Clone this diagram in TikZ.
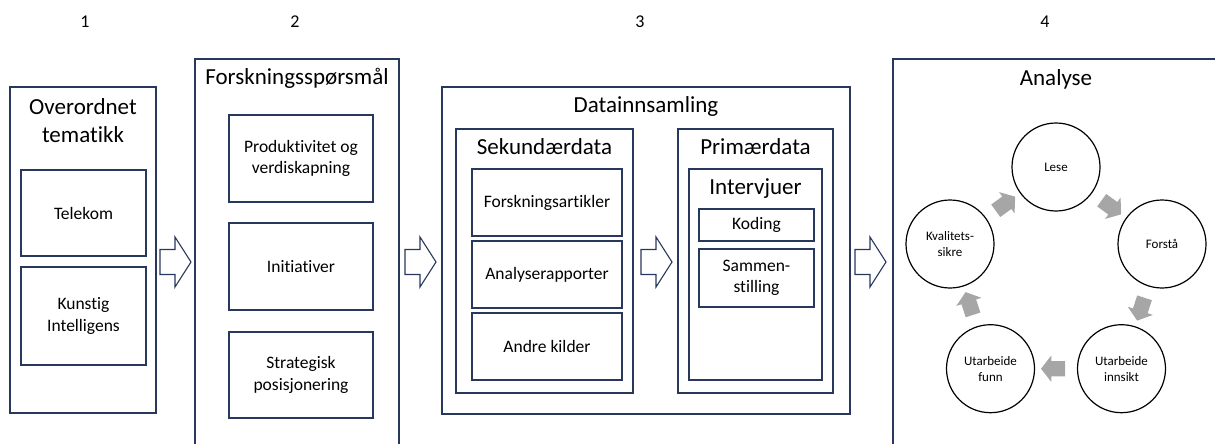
\documentclass[tikz,border=0pt]{standalone}
\usepackage{fontspec}
\setmainfont{Carlito}[Ligatures={NoCommon}]
\usetikzlibrary{shapes.arrows}
\definecolor{frame}{RGB}{40,56,92}
\definecolor{cyclegrey}{RGB}{166,166,166}

\begin{document}
\begin{tikzpicture}[x=1pt,y=-1pt,
  panel/.style={draw=frame, line width=1.1pt, inner sep=0pt},
  item/.style={panel, align=center, font=\fontsize{17.5}{21.5}\selectfont},
  heading/.style={inner sep=0pt, align=center, font=\fontsize{23}{28}\selectfont},
  stagenum/.style={inner sep=0pt, font=\fontsize{18}{22}\selectfont},
  phase/.style={circle, draw=black, line width=1.2pt, minimum size=88pt,
    inner sep=0pt, align=center, font=\fontsize{13}{16}\selectfont},
  hollow/.pic={
    \draw[frame, fill=white, line width=1.1pt, line join=miter]
      (-15.5,-12.5) -- (-0.5,-12.5) -- (-0.5,-25) -- (15.5,0)
      -- (-0.5,25) -- (-0.5,12.5) -- (-15.5,12.5) -- cycle;
  },
  turn/.style={single arrow, fill=cyclegrey, draw=none,
    inner xsep=0pt, inner ysep=7.5pt, minimum height=24pt,
    single arrow head extend=5.5pt, single arrow tip angle=104,
    sloped, allow upside down, pos=0.5}
]
\clip (0,0) rectangle (1215,444);

% stage numbers
\node[stagenum] (n1) at (85,22) {1};
\node[stagenum] (n2) at (295,22) {2};
\node[stagenum] (n3) at (640,22) {3};
\node[stagenum] (n4) at (1045,22) {4};

% 1: overall theme
\node[panel, minimum width=146pt, minimum height=326pt] (b1) at (83,250) {};
\node[heading] (t1) at (83,121) {Overordnet\\tematikk};
\node[item, minimum width=125pt, minimum height=86pt] (tele) at (83.5,213) {Telekom};
\node[item, minimum width=125pt, minimum height=98pt] (ki) at (83.5,316) {Kunstig\\Intelligens};

% 2: research questions
\node[panel, minimum width=204pt, minimum height=401pt] (b2) at (297,259.5) {};
\node[heading] (t2) at (297,78) {Forskningsspørsmål};
\node[item, minimum width=144pt, minimum height=87pt] (prod) at (301,158.5) {Produktivitet og\\verdiskapning};
\node[item, minimum width=144pt, minimum height=87pt] (init) at (301,266.5) {Initiativer};
\node[item, minimum width=144pt, minimum height=86pt] (strat) at (301,375) {Strategisk\\posisjonering};

% 3: data collection
\node[panel, minimum width=408pt, minimum height=327pt] (b3) at (646,250.5) {};
\node[heading] (t3) at (646,106) {Datainnsamling};
\node[panel, minimum width=177pt, minimum height=264pt] (sek) at (544.5,261) {};
\node[heading] (tsek) at (544.5,147) {Sekundærdata};
\node[item, minimum width=150pt, minimum height=67pt] (fa) at (547,202.5) {Forskningsartikler};
\node[item, minimum width=150pt, minimum height=67pt] (ar) at (547,274.5) {Analyserapporter};
\node[item, minimum width=150pt, minimum height=67pt] (ak) at (547,346.5) {Andre kilder};
\node[panel, minimum width=155pt, minimum height=264pt] (prim) at (755.5,261) {};
\node[heading] (tprim) at (755.5,147) {Primærdata};
\node[panel, minimum width=133pt, minimum height=211pt] (intv) at (755.5,274.5) {};
\node[heading] (tintv) at (755.5,189) {Intervjuer};
\node[item, minimum width=115pt, minimum height=32pt] (kod) at (756.5,225) {Koding};
\node[item, minimum width=115pt, minimum height=58pt] (sam) at (756.5,278) {Sammen-\\stilling};

% 4: analysis cycle
\node[panel, minimum width=347pt, minimum height=401pt] (b4) at (1066.5,259.5) {};
\node[heading] (t4) at (1056,79) {Analyse};
\node[phase] (lese) at (1056,167) {Lese};
\node[phase] (forsta) at (1162,244) {Forstå};
\node[phase] (innsikt) at (1121.5,368.7) {Utarbeide\\innsikt};
\node[phase] (funn) at (990.5,368.7) {Utarbeide\\funn};
\node[phase] (kval) at (950,244) {Kvalitets-\\sikre};
\path (lese) -- (forsta) node[turn] (g1) {};
\path (forsta) -- (innsikt) node[turn] (g2) {};
\path (innsikt) -- (funn) node[turn] (g3) {};
\path (funn) -- (kval) node[turn] (g4) {};
\path (kval) -- (lese) node[turn] (g5) {};

% flow between stages
\pic at (175.5,262) {hollow};
\pic at (420.5,262) {hollow};
\pic at (656.5,262) {hollow};
\pic at (870.5,262) {hollow};
\end{tikzpicture}
\end{document}
